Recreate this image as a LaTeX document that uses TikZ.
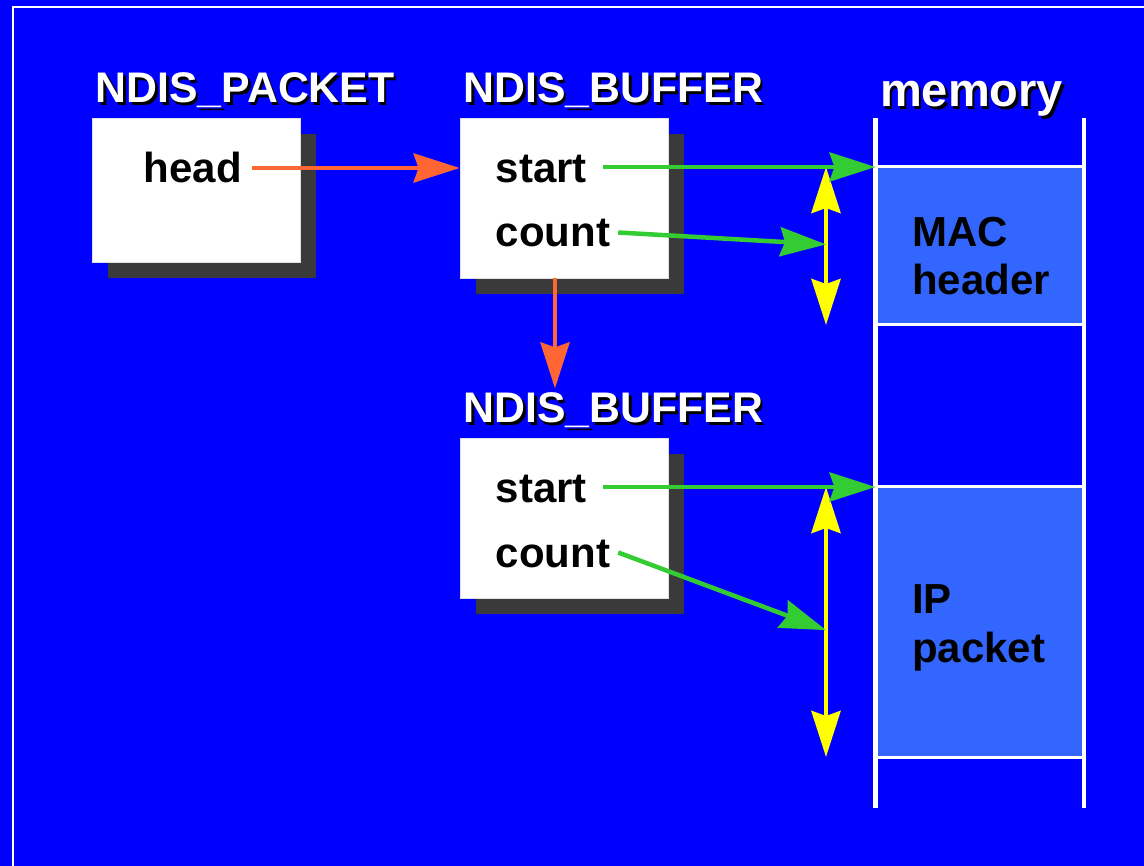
\documentclass[tikz,border=0pt]{standalone}
\usepackage{fontspec}
\setmainfont{Liberation Sans}
\usetikzlibrary{arrows.meta,shadows,calc}

\definecolor{bgblue}{HTML}{0000FF}
\definecolor{memblue}{HTML}{3366FF}
\definecolor{ptrorange}{HTML}{FF6633}
\definecolor{ptrgreen}{HTML}{33CC33}
\definecolor{lenyellow}{HTML}{FFFF00}
\definecolor{shadowgrey}{HTML}{3A3A3A}

% title with a dark drop shadow under white letters
\newcommand\shadedtitle[3]{%
  \node[ttlshade] (#1-sh) at ($(#2)+(2.5,2.5)$) {#3};
  \node[ttl] (#1) at (#2) {#3};}

\begin{document}
\begin{tikzpicture}[x=1pt,y=-1pt,
  >={Stealth[length=46pt, width=29pt, inset=5pt]},
  lbl/.style={inner sep=0pt, anchor=base west, font=\fontsize{42}{48}\selectfont\bfseries},
  ttl/.style={inner sep=0pt, anchor=base west, text=white, font=\fontsize{42.8}{48}\selectfont\bfseries},
  ttlshade/.style={ttl, text=black},
  struct/.style={fill=white, draw=white!88!black, line width=0.8pt, minimum width=208pt,
    inner sep=0pt, drop shadow={shadow xshift=16pt, shadow yshift=-16pt, fill=shadowgrey, opacity=1}},
  memblock/.style={fill=memblue, draw=white, line width=3pt, minimum width=208.5pt,
    inner sep=0pt, outer sep=0pt},
  rail/.style={white, line width=4.5pt},
  orangeptr/.style={ptrorange, line width=4.5pt, ->},
  greenptr/.style={ptrgreen, line width=4.5pt, ->},
  span/.style={lenyellow, line width=4.5pt, <->},
]
\useasboundingbox (0,0) rectangle (1144,866);
\fill[bgblue] (0,0) rectangle (1144,866);
\clip (0,0) rectangle (1144,866);
\draw[white, line width=2pt] (13,7) rectangle (1200,920);

% memory column
\node[memblock, minimum height=158pt] (mac) at (979.75,246) {};
\node[memblock, minimum height=270pt] (ip) at (979.75,622) {};
\coordinate (railLt) at (875.5,118);
\coordinate (railLb) at (875.5,808);
\coordinate (railRt) at (1084,118);
\coordinate (railRb) at (1084,808);
\draw[rail] (railLt) -- (railLb);
\draw[rail] (railRt) -- (railRb);
\node[lbl] (mactxt) at (912,247) {MAC};
\node[lbl] (hdrtxt) at (912,295) {header};
\node[lbl] (iptxt) at (912,613) {IP};
\node[lbl] (pkttxt) at (912,662) {packet};
\node[inner sep=0pt, anchor=base west, text=black, font=\fontsize{47}{52}\selectfont\bfseries] (memttl-sh) at (882.5,109.5) {memory};
\node[inner sep=0pt, anchor=base west, text=white, font=\fontsize{47}{52}\selectfont\bfseries] (memttl) at (880,107) {memory};

% structures
\node[struct, minimum height=144pt] (pkt) at (196,190) {};
\node[struct, minimum height=160pt] (buf1) at (564,198) {};
\node[struct, minimum height=160pt] (buf2) at (564,518) {};

\shadedtitle{pktttl}{95.5,103}{NDIS\_PACKET}
\shadedtitle{buf1ttl}{463.5,103}{NDIS\_BUFFER}
\shadedtitle{buf2ttl}{463.5,423}{NDIS\_BUFFER}

\node[lbl] (head) at (143.5,183) {head};
\node[lbl] (start1) at (495.5,183) {start};
\node[lbl] (count1) at (495.5,247) {count};
\node[lbl] (start2) at (495.5,503) {start};
\node[lbl] (count2) at (495.5,567) {count};

% extent of each buffer in memory
\coordinate (s1top) at ([xshift=-49.5pt]mac.north west);
\coordinate (s1bot) at ([xshift=-49.5pt]mac.south west);
\coordinate (s2top) at ([xshift=-49.5pt]ip.north west);
\coordinate (s2bot) at ([xshift=-49.5pt]ip.south west);
\coordinate (len1) at ($(s1top)!0.49!(s1bot)$);
\coordinate (len2) at ($(s2top)!0.53!(s2bot)$);
\draw[span] (s1bot) -- (s1top);
\draw[span] (s2bot) -- (s2top);

% pointers
\coordinate (buf2in) at ([xshift=-9pt, yshift=-110pt]buf1.south);
\draw[orangeptr] ([xshift=10pt]head.east) -- (head.east -| buf1.west);
\draw[orangeptr] ([xshift=-9pt]buf1.south) -- (buf2in);
\draw[greenptr] ($(start1.east |- mac.north west)+(16,0)$) -- (mac.north west);
\draw[greenptr] ([xshift=8pt, yshift=1pt]count1.east) -- (len1);
\draw[greenptr] ($(start2.east |- ip.north west)+(16,0)$) -- (ip.north west);
\draw[greenptr] ([xshift=8pt, yshift=1pt]count2.east) -- (len2);
\end{tikzpicture}
\end{document}
